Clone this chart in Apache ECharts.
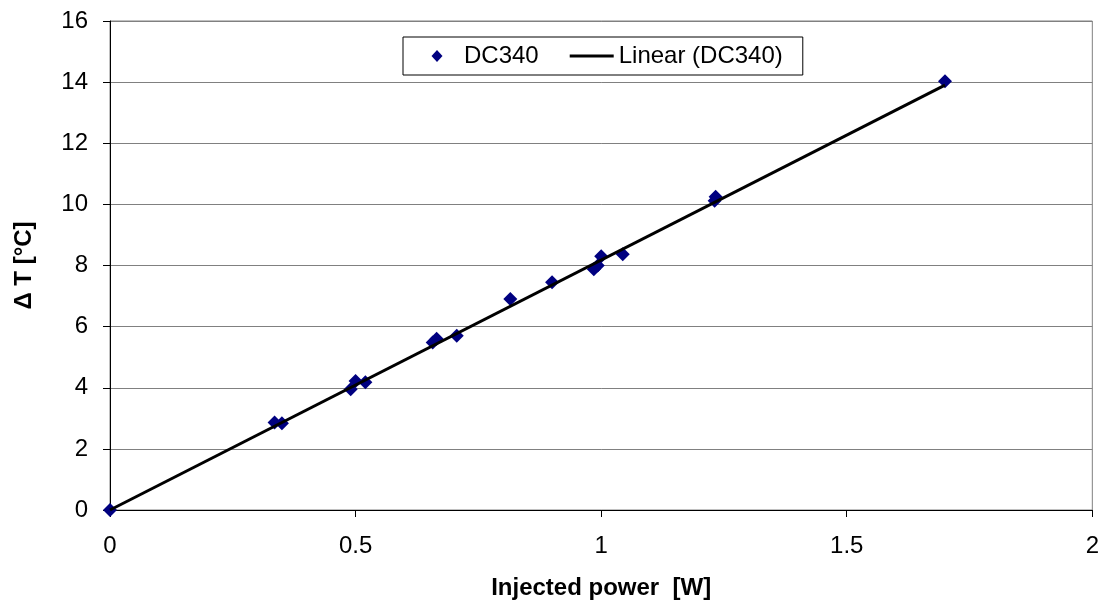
<!DOCTYPE html>
<html>
<head>
<meta charset="utf-8">
<title>DC340 temperature rise vs injected power</title>
<script src="https://cdn.jsdelivr.net/npm/echarts@6/dist/echarts.min.js"></script>
<style>
  html, body { margin: 0; padding: 0; background: #fff; }
  #chart { width: 1102px; height: 605px; }
</style>
</head>
<body>
<div id="chart"></div>
<script>
// Measured points: injected power [W] and temperature rise [°C]
const powerW = [0, 0.335, 0.35, 0.49, 0.50, 0.52, 0.657, 0.665, 0.706, 0.815, 0.90, 0.985, 0.993, 1.0, 1.044, 1.231, 1.233, 1.70];
const deltaT = [0, 2.86, 2.84, 3.95, 4.22, 4.18, 5.48, 5.60, 5.70, 6.90, 7.45, 7.88, 8.00, 8.30, 8.37, 10.12, 10.25, 14.03];

// Linear trendline end points
const trendX = [0, 1.70];
const trendY = [0, 13.90];

// Axis ticks
const xTicks = [0, 0.5, 1, 1.5, 2];
const yTicks = [0, 2, 4, 6, 8, 10, 12, 14, 16];

const seriesName = 'DC340';
const trendName = 'Linear (DC340)';

const FONT = "'Liberation Sans', Arial, sans-serif";

// Legend icons: the zero-length sub-paths only widen the bounding box so the
// visible shape keeps its proportions inside the 44x12 legend cell.
const LEGEND_DIAMOND = 'path://M-22,0L-22,0M22,0L22,0M0,-6L5.5,0L0,6L-5.5,0Z';
const LEGEND_LINE = 'path://M0,-6L0,-6M0,6L0,6M0,-1.5L44,-1.5L44,1.5L0,1.5Z';

const points = powerW.map((x, i) => [x, deltaT[i]]);
const trend = trendX.map((x, i) => [x, trendY[i]]);

const chart = echarts.init(document.getElementById('chart'), null, { renderer: 'canvas' });

chart.setOption({
  animation: false,
  backgroundColor: '#ffffff',
  textStyle: { fontFamily: FONT },
  grid: {
    left: 110, right: 9, top: 21, bottom: 95,
    show: true, borderColor: '#808080', borderWidth: 1, backgroundColor: '#ffffff'
  },
  legend: {
    left: 403, top: 37,
    orient: 'horizontal',
    backgroundColor: '#ffffff',
    borderColor: '#000000', borderWidth: 1,
    padding: [7, 20, 7, 12],
    itemWidth: 44, itemHeight: 12, itemGap: 31,
    textStyle: { fontFamily: FONT, fontSize: 24, color: '#000' },
    data: [
      { name: seriesName, icon: LEGEND_DIAMOND },
      { name: trendName, icon: LEGEND_LINE }
    ]
  },
  xAxis: {
    type: 'value',
    min: xTicks[0], max: xTicks[xTicks.length - 1], interval: xTicks[1] - xTicks[0],
    name: 'Injected power  [W]',
    nameLocation: 'middle', nameGap: 66,
    nameTextStyle: { fontFamily: FONT, fontSize: 24, fontWeight: 'bold', color: '#000' },
    axisLine: { onZero: false, lineStyle: { color: '#000', width: 1 } },
    axisTick: { show: true, inside: false, length: 7, lineStyle: { color: '#000' } },
    axisLabel: { fontFamily: FONT, fontSize: 24, color: '#000', margin: 24,
      formatter: v => String(v) },
    splitLine: { show: false }
  },
  yAxis: {
    type: 'value',
    min: yTicks[0], max: yTicks[yTicks.length - 1], interval: yTicks[1] - yTicks[0],
    name: 'Δ T [°C]',
    nameLocation: 'middle', nameGap: 74,
    nameTextStyle: { fontFamily: FONT, fontSize: 24, fontWeight: 'bold', color: '#000' },
    axisLine: { onZero: false, lineStyle: { color: '#000', width: 1 } },
    axisTick: { show: true, inside: false, length: 7, lineStyle: { color: '#000' } },
    axisLabel: { fontFamily: FONT, fontSize: 24, color: '#000', margin: 22 },
    splitLine: { show: true, lineStyle: { color: '#808080', width: 1 } }
  },
  series: [
    {
      name: seriesName,
      type: 'scatter',
      data: points,
      symbol: 'diamond',
      symbolSize: [14, 14],
      itemStyle: { color: '#000080', opacity: 1 },
      z: 2
    },
    {
      name: trendName,
      type: 'line',
      data: trend,
      showSymbol: false,
      symbol: 'none',
      lineStyle: { color: '#000000', width: 3 },
      itemStyle: { color: '#000000' },
      z: 3
    }
  ]
});
</script>
</body>
</html>
